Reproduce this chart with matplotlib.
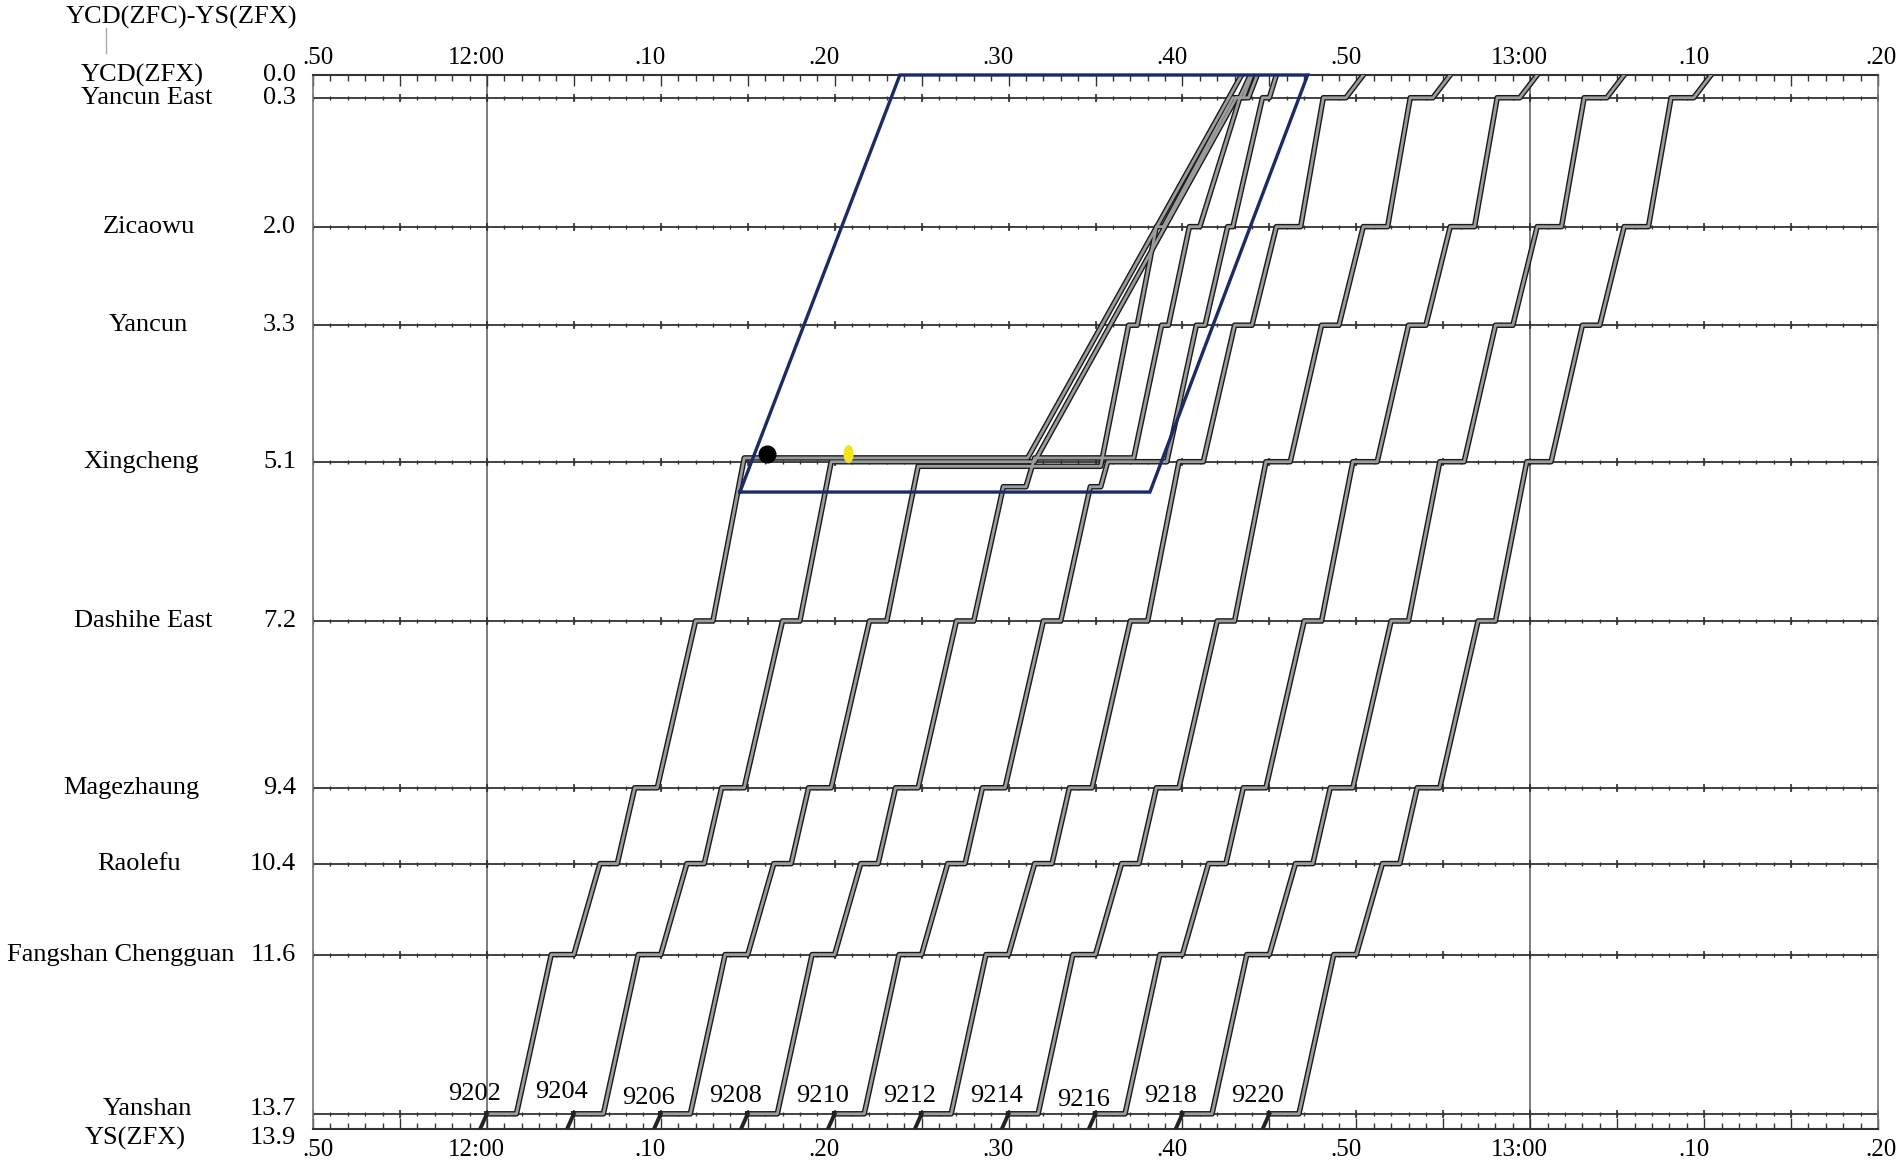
"""
    Train diagram YCD(ZFC) - YS(ZFX), disturbance at Xingcheng
"""
import matplotlib
matplotlib.use('Agg')
import matplotlib.pyplot as plt
from matplotlib.patches import Ellipse
from matplotlib.lines import Line2D
from matplotlib.transforms import blended_transform_factory

plt.rcParams['font.family'] = ['Liberation Serif', 'DejaVu Serif']

# stations, top to bottom
station_names = ['YCD(ZFX)', 'Yancun East', 'Zicaowu', 'Yancun', 'Xingcheng', 'Dashihe East',
                 'Magezhaung', 'Raolefu', 'Fangshan Chengguan', 'Yanshan', 'YS(ZFX)']
station_km = [0.0, 0.3, 2.0, 3.3, 5.1, 7.2, 9.4, 10.4, 11.6, 13.7, 13.9]

# time axis, minutes since midnight (11:50 .. 13:20)
tick_minutes = [710, 720, 730, 740, 750, 760, 770, 780, 790, 800]
tick_labels = ['.50', '12:00', '.10', '.20', '.30', '.40', '.50', '13:00', '.10', '.20']

# train numbers
train_ids = ['9202', '9204', '9206', '9208', '9210', '9212', '9214', '9216', '9218', '9220']

# stop sequence from Yanshan up to Dashihe East departure
km_lower = [13.7, 13.7, 11.6, 11.6, 10.4, 10.4, 9.4, 9.4, 7.2, 7.2]
km_normal = km_lower + [5.1, 5.1, 3.3, 3.3, 2.0, 2.0, 0.3, 0.3, 0.0]
km_held_outside = km_lower + [5.43, 5.43, 5.1, 5.1, 3.3, 3.3, 2.0, 2.0, 0.3, 0.3, 0.0]

# arrival / departure times of each train (minutes since midnight)
t_9202 = [720.0, 721.7, 723.7, 725.0, 726.5, 727.5, 728.5, 729.8, 732.0, 733.0, 734.8, 751.1, 763.4]
km_9202 = km_lower + [5.1, 5.1, 0.0]
t_9204 = [725.0, 726.7, 728.7, 730.0, 731.5, 732.5, 733.5, 734.8, 737.0, 738.0, 739.8, 751.5,
          763.1, 763.5, 764.0]
km_9204 = km_lower + [5.1, 5.1, 0.3, 0.3, 0.0]
t_9206 = [730.0, 731.7, 733.7, 735.0, 736.5, 737.5, 738.5, 739.8, 742.0, 743.0, 744.8, 755.3,
          756.9, 757.4, 758.5, 758.9, 762.9, 763.3, 763.9]
km_9206 = km_normal
t_9208 = [735.0, 736.7, 738.7, 740.0, 741.5, 742.5, 743.5, 744.8, 747.0, 748.0, 749.7, 751.0,
          751.5, 757.2, 758.8, 759.2, 760.4, 761.0, 763.3, 763.8, 764.3]
km_9208 = km_held_outside
t_9210 = [740.0, 741.7, 743.7, 745.0, 746.5, 747.5, 748.5, 749.8, 752.0, 753.0, 754.7, 755.3,
          755.7, 759.1, 760.8, 761.3, 762.6, 762.9, 764.6, 765.0, 765.4]
km_9210 = km_held_outside
t_9212 = [745.0, 746.7, 748.7, 750.0, 751.5, 752.5, 753.5, 754.8, 757.0, 758.0, 759.8, 761.2,
          763.0, 764.0, 765.4, 766.8, 768.1, 769.4, 770.4]
t_9214 = [750.0, 751.7, 753.7, 755.0, 756.5, 757.5, 758.5, 759.8, 762.0, 763.0, 764.8, 766.2,
          768.0, 769.0, 770.4, 771.8, 773.1, 774.4, 775.4]
t_9216 = [755.0, 756.7, 758.7, 760.0, 761.5, 762.5, 763.5, 764.8, 767.0, 768.0, 769.8, 771.2,
          773.0, 774.0, 775.4, 776.8, 778.1, 779.4, 780.4]
t_9218 = [760.0, 761.7, 763.7, 765.0, 766.5, 767.5, 768.5, 769.8, 772.0, 773.0, 774.8, 776.2,
          778.0, 779.0, 780.4, 781.8, 783.1, 784.4, 785.4]
t_9220 = [765.0, 766.7, 768.7, 770.0, 771.5, 772.5, 773.5, 774.8, 777.0, 778.0, 779.8, 781.2,
          783.0, 784.0, 785.4, 786.8, 788.1, 789.4, 790.4]

train_times = [t_9202, t_9204, t_9206, t_9208, t_9210, t_9212, t_9214, t_9216, t_9218, t_9220]
train_kms = [km_9202, km_9204, km_9206, km_9208, km_9210,
             km_normal, km_normal, km_normal, km_normal, km_normal]
label_km = [13.44, 13.41, 13.49, 13.46, 13.47, 13.47, 13.46, 13.52, 13.46, 13.47]

# highlighted area and the two event marks at Xingcheng
box_t = [734.55, 743.75, 767.2, 758.13, 734.55]
box_km = [5.5, 0.0, 0.0, 5.5, 5.5]
black_event = (736.1, 5.0)
yellow_event = (740.8, 5.0)

# small vertical shift of trains waiting at Xingcheng so the tracks read apart
hold_shift = [-0.05, 0.0, 0.06, -0.05, 0.0, 0, 0, 0, 0, 0]

fig = plt.figure(figsize=(19, 11.72), dpi=100)
ax = fig.add_axes([313 / 1900, 1 - 1129 / 1172, 1565 / 1900, 1054 / 1172])
ax.set_xlim(710, 800)
ax.set_ylim(13.9, 0.0)
ax.set_yticks([])

ax.xaxis.set_major_locator(matplotlib.ticker.MultipleLocator(5))
ax.xaxis.set_minor_locator(matplotlib.ticker.MultipleLocator(1))
ax.tick_params(axis='x', which='both', top=True, bottom=True, direction='in',
               labelbottom=False, labeltop=False, color='#333333', width=1)
ax.tick_params(axis='x', which='major', length=8)
ax.tick_params(axis='x', which='minor', length=4)
for side in ['left', 'right']:
    ax.spines[side].set_color('#777777')
    ax.spines[side].set_linewidth(1.2)
for side in ['top', 'bottom']:
    ax.spines[side].set_color('#333333')
    ax.spines[side].set_linewidth(1.5)

# hour lines
for t in [720, 780]:
    ax.axvline(t, color='#666666', lw=1.2, zorder=1)

# station lines with minute marks
minutes = list(range(710, 801))
fives = list(range(710, 801, 5))
for km in station_km[1:-1]:
    ax.axhline(km, color='#333333', lw=1.3, zorder=1)
    ax.plot(minutes, [km] * len(minutes), ls='none', marker='|', ms=3.5, mew=1,
            color='#333333', zorder=1)
    ax.plot(fives, [km] * len(fives), ls='none', marker='|', ms=6, mew=1.2,
            color='#333333', zorder=1)

# trains, drawn as grey band with dark edges
for i, tid in enumerate(train_ids):
    t = train_times[i]
    km = [k + hold_shift[i] if k == 5.1 else k for k in train_kms[i]]
    ax.plot(t, km, color='#1a1a1a', lw=4.0, zorder=3)
    ax.plot(t, km, color='#9c9c9c', lw=2.0, zorder=4)
    arr = t[0]
    ax.plot([arr - 0.35, arr], [13.88, 13.7], color='#222222', lw=2.8, zorder=4)
    ax.text(arr - 0.7, label_km[i], tid, ha='center', va='center', fontsize=19, zorder=5)

# highlighted area
ax.plot(box_t, box_km, color='#1c2a66', lw=2.4, zorder=6, clip_on=False,
        solid_joinstyle='miter')
ax.plot(black_event[0], black_event[1], 'o', color='black', ms=12, zorder=7)
ax.add_patch(Ellipse(yellow_event, 0.5, 0.22, color='#f2e51f', zorder=7))

# time labels above and below
for i, t in enumerate(tick_minutes):
    dx = -0.6
    if i == 0:
        dx = 0.3
    if i == len(tick_minutes) - 1:
        dx = 0.2
    ax.text(t + dx, -0.23, tick_labels[i], ha='center', va='center', fontsize=18)
    ax.text(t + dx, 14.18, tick_labels[i], ha='center', va='center', fontsize=18)

# station names and kilometres on the left
trans = blended_transform_factory(fig.transFigure, ax.transData)
name_x = [142, 147, 149, 148, 141, 143, 131, 139, 121, 147, 135]
for i, name in enumerate(station_names):
    y = station_km[i]
    if name == 'YS(ZFX)':
        y = 14.02
    if name == 'Yanshan':
        y = 13.64
    ax.text(name_x[i] / 1900, y, name, transform=trans, ha='center', va='center', fontsize=19)
    ax.text(296 / 1900, y, f'{station_km[i]:.1f}', transform=trans, ha='right', va='center',
            fontsize=19)

fig.text(182 / 1900, 1 - 17 / 1172, 'YCD(ZFC)-YS(ZFX)', ha='center', va='center', fontsize=19)
fig.add_artist(Line2D([106 / 1900, 106 / 1900], [1 - 28 / 1172, 1 - 53 / 1172],
                      color='#aaaaaa', lw=1))

fig.savefig('out.png', dpi=100)
